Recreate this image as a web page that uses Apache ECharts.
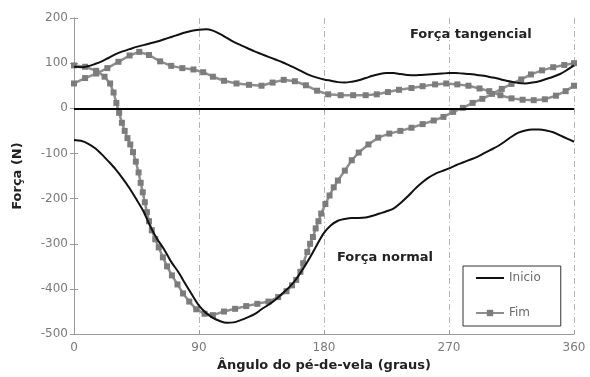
<!DOCTYPE html>
<html>
<head>
<meta charset="utf-8">
<script src="https://cdn.jsdelivr.net/npm/echarts@6/dist/echarts.min.js"></script>
<style>
  html, body { margin: 0; padding: 0; background: #fff; }
  #chart { width: 590px; height: 377px; }
</style>
</head>
<body>
<div id="chart"></div>
<script>
// Pedal forces over one crank revolution: [crank angle (deg), force (N)]
const inicioTangencial = [
  [0, 92], [5, 91], [10, 93], [15, 98], [20, 104], [25, 112], [30, 120], [35, 126],
  [40, 131], [45, 136], [50, 140], [55, 144], [60, 148], [65, 153], [70, 158], [75, 163],
  [80, 168], [85, 172], [90, 174], [95, 175], [100, 172], [105, 165], [110, 156], [115, 147],
  [120, 140], [125, 133], [130, 126], [135, 120], [140, 114], [145, 108], [150, 102], [155, 95],
  [160, 88], [165, 80], [170, 73], [175, 68], [180, 64], [185, 61], [190, 58], [195, 57],
  [200, 59], [205, 62], [210, 67], [215, 72], [220, 76], [225, 78], [230, 78], [235, 76],
  [240, 74], [245, 73], [250, 74], [255, 75], [260, 76], [265, 77], [270, 78], [275, 78],
  [280, 77], [285, 76], [290, 74], [295, 72], [300, 69], [305, 66], [310, 62], [315, 59],
  [320, 56], [325, 55], [330, 57], [335, 60], [340, 65], [345, 70], [350, 76], [355, 85], [360, 95]
];

const inicioNormal = [
  [0, -70], [5, -72], [10, -78], [15, -88], [20, -102], [25, -118], [30, -135], [35, -155],
  [40, -177], [45, -202], [50, -228], [55, -262], [60, -290], [65, -313], [70, -340], [75, -362],
  [80, -388], [85, -413], [90, -437], [95, -453], [100, -464], [105, -471], [110, -475], [115, -474],
  [120, -469], [125, -463], [130, -456], [135, -445], [140, -435], [145, -424], [150, -410], [155, -396],
  [160, -378], [165, -355], [170, -330], [175, -302], [180, -276], [185, -259], [190, -249], [195, -245],
  [200, -243], [205, -243], [210, -242], [215, -238], [220, -233], [225, -228], [230, -222], [235, -210],
  [240, -196], [245, -180], [250, -166], [255, -154], [260, -145], [265, -139], [270, -133], [275, -126],
  [280, -120], [285, -114], [290, -108], [295, -100], [300, -92], [305, -84], [310, -74], [315, -63],
  [320, -54], [325, -49], [330, -47], [335, -47], [340, -49], [345, -53], [350, -60], [355, -67], [360, -74]
];

const fimTangencial = [
  [0, 55], [8, 67], [16, 77], [24, 89], [32, 103], [40, 117], [47, 125], [54, 118],
  [62, 104], [70, 94], [78, 89], [86, 86], [93, 80], [100, 70], [108, 61], [117, 55],
  [126, 52], [135, 50], [143, 57], [151, 63], [159, 60], [167, 51], [175, 39], [183, 31],
  [192, 29], [201, 29], [210, 29], [218, 31], [226, 36], [234, 41], [243, 45], [251, 49],
  [260, 53], [268, 55], [276, 53], [284, 50], [292, 44], [299, 38], [307, 29], [315, 22],
  [323, 19], [331, 18], [339, 20], [347, 28], [354, 38], [360, 50]
];

const fimNormal = [
  [0, 95], [8, 92], [16, 83], [22, 70], [26, 55], [28.5, 35], [30.5, 12], [32.5, -10],
  [34.5, -32], [36.5, -50], [38.5, -66], [40.5, -80], [42.5, -97], [44.5, -118], [46.5, -142], [48, -165],
  [49.5, -186], [51, -208], [52.5, -230], [54, -250], [56, -270], [58.5, -290], [61, -308], [64, -330],
  [67, -350], [70.5, -370], [74.5, -390], [78.5, -410], [83, -428], [88, -445], [94, -455], [100, -458],
  [108, -450], [116, -444], [124, -438], [132, -433], [140, -428], [147, -418], [153, -405], [157, -392],
  [160, -380], [163, -362], [165, -343], [168, -318], [170, -300], [172, -285], [174, -266], [176, -250],
  [178, -233], [181, -212], [184, -193], [187, -175], [190, -160], [195, -138], [200, -115], [205, -98],
  [212, -80], [219, -65], [227, -56], [235, -50], [243, -43], [251, -35], [259, -27], [266, -19],
  [273, -8], [280, 1], [287, 12], [294, 21], [301, 32], [308, 43], [315, 54], [322, 64],
  [329, 75], [337, 84], [345, 91], [353, 96], [360, 100]
];

const xMin = 0, xMax = 360, xStep = 90;
const yMin = -500, yMax = 200, yStep = 100;

const FONT = '"DejaVu Sans", sans-serif';
const frameColor = '#9a9a9a';
const black = '#111111';
const gray = '#8e8e8e';
const markerGray = '#7c7c7c';

const chart = echarts.init(document.getElementById('chart'), null, { renderer: 'canvas' });

const hiddenAxis = {
  axisLine: { show: true, lineStyle: { color: frameColor, width: 1 } },
  axisTick: { show: true, inside: true, length: 4, lineStyle: { color: frameColor } },
  axisLabel: { show: false },
  splitLine: { show: false }
};

chart.setOption({
  animation: false,
  backgroundColor: '#ffffff',
  grid: { left: 74, right: 16, top: 18, bottom: 35, containLabel: false },
  xAxis: [
    {
      type: 'value', min: xMin, max: xMax, interval: xStep, position: 'bottom',
      name: 'Ângulo do pé-de-vela (graus)', nameLocation: 'middle', nameGap: 21,
      nameTextStyle: { fontFamily: FONT, fontWeight: 'bold', fontSize: 13, color: '#222' },
      axisLine: { show: true, onZero: false, lineStyle: { color: frameColor, width: 1 } },
      axisTick: { show: true, inside: true, length: 4, lineStyle: { color: frameColor } },
      axisLabel: { fontFamily: FONT, fontSize: 12, color: '#7a7a7a', margin: 8 },
      splitLine: { show: true, lineStyle: { color: '#b5b5b5', width: 1, type: [6, 3, 1, 3] } }
    },
    Object.assign({ type: 'value', min: xMin, max: xMax, interval: xStep, position: 'top' }, hiddenAxis)
  ],
  yAxis: [
    {
      type: 'value', min: yMin, max: yMax, interval: yStep, position: 'left',
      name: 'Força (N)', nameLocation: 'middle', nameGap: 50,
      nameTextStyle: { fontFamily: FONT, fontWeight: 'bold', fontSize: 13, color: '#222' },
      axisLine: { show: true, onZero: false, lineStyle: { color: frameColor, width: 1 } },
      axisTick: { show: true, inside: true, length: 4, lineStyle: { color: frameColor } },
      axisLabel: { fontFamily: FONT, fontSize: 12, color: '#7a7a7a', margin: 6 },
      splitLine: { show: false }
    },
    Object.assign({ type: 'value', min: yMin, max: yMax, interval: yStep, position: 'right' }, hiddenAxis)
  ],
  legend: {
    data: [
      { name: 'Inicio', itemStyle: { opacity: 0 } },
      { name: 'Fim' }
    ],
    orient: 'vertical',
    left: 463, top: 266,
    padding: [5, 20, 6, 12],
    itemWidth: 28, itemHeight: 8, itemGap: 21,
    borderColor: '#333', borderWidth: 1, borderRadius: 0,
    backgroundColor: '#ffffff',
    textStyle: { fontFamily: FONT, fontSize: 12, color: '#6a6a6a', lineHeight: 14 }
  },
  graphic: [
    { type: 'text', left: 410, top: 28, silent: true,
      style: { text: 'Força tangencial', font: 'bold 13px ' + FONT, fill: '#222' } },
    { type: 'text', left: 337, top: 251, silent: true,
      style: { text: 'Força normal', font: 'bold 13px ' + FONT, fill: '#222' } }
  ],
  series: [
    {
      name: 'Fim', type: 'line', data: fimTangencial,
      symbol: 'rect', symbolSize: 6, showAllSymbol: true,
      lineStyle: { color: gray, width: 2.5 }, itemStyle: { color: markerGray },
      z: 2,
      markLine: {
        silent: true, symbol: 'none', animation: false,
        label: { show: false },
        lineStyle: { color: '#000', width: 2, type: 'solid' },
        data: [{ yAxis: 0 }]
      }
    },
    {
      name: 'Fim', type: 'line', data: fimNormal,
      symbol: 'rect', symbolSize: 6, showAllSymbol: true,
      lineStyle: { color: gray, width: 2.5 }, itemStyle: { color: markerGray },
      z: 2
    },
    {
      name: 'Inicio', type: 'line', data: inicioTangencial, smooth: 0.3,
      symbol: 'none', lineStyle: { color: black, width: 2 }, itemStyle: { color: black },
      z: 3
    },
    {
      name: 'Inicio', type: 'line', data: inicioNormal, smooth: 0.3,
      symbol: 'none', lineStyle: { color: black, width: 2 }, itemStyle: { color: black },
      z: 3
    }
  ]
});
</script>
</body>
</html>
